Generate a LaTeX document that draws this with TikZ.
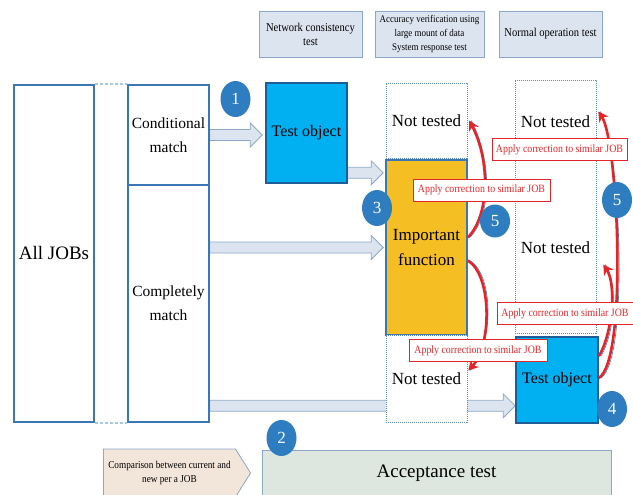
\documentclass[tikz,border=0pt]{standalone}
\usepackage{fontspec}
\setmainfont{Liberation Serif}
\newfontfamily\narrowserif[FakeStretch=0.88]{Liberation Serif}
\usetikzlibrary{arrows.meta,calc,shapes.geometric,shapes.symbols}

\definecolor{frameblue}{HTML}{3B77B5}
\definecolor{deepblue}{HTML}{1F5D96}
\definecolor{paleblue}{HTML}{DCE5EF}
\definecolor{greyblue}{HTML}{8CA8C8}
\definecolor{cyanbox}{HTML}{00B0F0}
\definecolor{goldbox}{HTML}{F5BE22}
\definecolor{numblue}{HTML}{2F7DC1}
\definecolor{fixred}{HTML}{E42528}
\definecolor{peach}{HTML}{F2E5DA}
\definecolor{sage}{HTML}{DEE7DF}
\definecolor{dashblue}{HTML}{5B8CC4}
\definecolor{lightdash}{HTML}{A9C8E8}

\pgfdeclarelayer{under}
\pgfsetlayers{under,main}

\tikzset{
  jobcol/.style={draw=frameblue,line width=1.6pt,rectangle,inner sep=0pt,
                 minimum width=80pt,align=center},
  header/.style={draw=greyblue,fill=paleblue,line width=0.9pt,rectangle,inner sep=0pt,
                 minimum height=46pt,align=center,
                 font=\narrowserif\fontsize{12}{14}\selectfont},
  result/.style={draw=dashblue,line width=0.5pt,dash pattern=on 1.2pt off 0.8pt,
                 fill=white,rectangle,inner sep=0pt,minimum width=81pt,
                 font=\fontsize{17}{20}\selectfont},
  tested/.style={draw=deepblue,fill=cyanbox,line width=1.6pt,rectangle,inner sep=0pt,
                 minimum width=81pt,font=\fontsize{16}{19}\selectfont},
  fixnote/.style={draw=fixred,fill=white,line width=0.8pt,text=fixred,inner sep=0pt,
                  minimum height=22pt,font=\narrowserif\fontsize{11.2}{11}\selectfont},
  badge/.style={ellipse,fill=numblue,text=white,inner sep=0pt,minimum width=30pt,
                minimum height=36pt,font=\fontsize{17}{17}\selectfont},
  flow/.style={draw=greyblue,fill=paleblue,line width=0.8pt},
  fix/.style={draw=fixred,line width=2.6pt,-{Stealth[length=10pt,width=11pt]}},
  fixedge/.style={draw=frameblue,line width=0.6pt,transform canvas={xshift=2pt}}
}

\newcommand{\flowarrow}[2]{%
  \draw[flow] ($(#1)+(0,-5.5)$) -- ($(#2)+(-12,-5.5)$) -- ($(#2)+(-12,-12)$)
    -- (#2) -- ($(#2)+(-12,12)$) -- ($(#2)+(-12,5.5)$) -- ($(#1)+(0,5.5)$) -- cycle;}

\begin{document}
\begin{tikzpicture}[x=1pt,y=-1pt]
\useasboundingbox (0,0) rectangle (633,495);

\node (net) at (310.5,34) [header,minimum width=103pt] {Network consistency\\test};
\node (acc) at (429.5,34) [header,minimum width=109pt,font=\narrowserif\fontsize{10.2}{14}\selectfont] {Accuracy verification using\\large mount of data\\System response test};
\node (nor) at (550.5,34) [header,minimum width=103pt] {Normal operation test};

\node (all) at (54,253.5) [jobcol,minimum height=337pt,font=\fontsize{19}{22}\selectfont] {All JOBs};
\node (cond) at (168.5,135) [jobcol,minimum width=81pt,minimum height=100pt,font=\fontsize{15.5}{24}\selectfont] {Conditional\\match};
\node (comp) at (168.5,303.5) [jobcol,minimum width=81pt,minimum height=237pt,font=\fontsize{15.5}{24}\selectfont] {Completely\\match};
\draw[lightdash,line width=1.5pt,dash pattern=on 3pt off 2pt] (all.north east) -- (cond.north west);
\draw[lightdash,line width=1.5pt,dash pattern=on 3pt off 2pt] (all.south east) -- (comp.south west);

\node (obj1) at (306.5,133) [tested,minimum height=100pt] {Test object};
\node (nt1) at (426.5,120.5) [result,minimum height=75pt] {Not tested};
\node (imp) at (426.5,247.5) [draw=frameblue,fill=goldbox,line width=1.6pt,inner sep=0pt,minimum width=81pt,minimum height=175pt,align=center,font=\fontsize{17}{25}\selectfont] {Important\\function};
\node (nt2) at (426.5,378.5) [result,minimum height=87pt] {Not tested};

\node (col3) at (555.5,206.5) [result,minimum height=253pt] {};
\node (nt3) at (555.5,122) [font=\fontsize{17}{20}\selectfont] {Not tested};
\node (nt4) at (555.5,248) [font=\fontsize{17}{20}\selectfont] {Not tested};
\node (obj2) at (557,380) [tested,minimum width=82pt,minimum height=86pt] {Test object};

\node (cmp) at (169.5,473) [signal,signal to=east,signal pointer angle=116,draw=greyblue,fill=peach,line width=0.8pt,minimum width=147pt,minimum height=48pt,inner sep=0pt,align=center,font=\narrowserif\fontsize{10.5}{14}\selectfont] {Comparison between current and\\new per a JOB};
\node (accept) at (436.5,473.5) [draw=greyblue,fill=sage,line width=0.8pt,minimum width=349pt,minimum height=47pt,font=\fontsize{19}{19}\selectfont] {Acceptance test};

\begin{pgfonlayer}{under}
\coordinate (a1e) at ($(obj1.west |- cond.east)+(-3,0)$);
\coordinate (a2s) at ($(obj1.south east)+(0,-11)$);
\coordinate (a2e) at ($(imp.west |- a2s)+(-2,0)$);
\coordinate (a3s) at (comp.east |- imp.west);
\coordinate (a3e) at ($(imp.west)+(-2,0)$);
\coordinate (a4s) at ($(comp.south east)+(0,-17)$);
\coordinate (a4e) at (obj2.west |- a4s);
\flowarrow{cond.east}{a1e}
\flowarrow{a2s}{a2e}
\flowarrow{a3s}{a3e}
\flowarrow{a4s}{a4e}
\end{pgfonlayer}

\coordinate (t3) at ($(col3.east)+(2,-95)$);
\coordinate (t4) at ($(col3.east)+(7,58)$);
\draw[fixedge] ($(imp.east)+(0,-10)$) .. controls (490,215) and (490,160) .. ($(nt1.east)+(2,0)$);
\draw[fix] ($(imp.east)+(0,-10)$) .. controls (490,215) and (490,160) .. ($(nt1.east)+(2,0)$);
\draw[fixedge] ($(imp.east)+(0,13)$) .. controls (492,275) and (492,345) .. ($(nt2.east)+(1,-8)$);
\draw[fix] ($(imp.east)+(0,13)$) .. controls (492,275) and (492,345) .. ($(nt2.east)+(1,-8)$);
\draw[fixedge] ($(obj2.north east)+(0,20)$) .. controls (612,335) and (617,285) .. (t4);
\draw[fix] ($(obj2.north east)+(0,20)$) .. controls (612,335) and (617,285) .. (t4);
\draw[fixedge] ($(obj2.east)+(0,-2)$) .. controls (628,360) and (618,140) .. (t3);
\draw[fix] ($(obj2.east)+(0,-2)$) .. controls (628,360) and (618,140) .. (t3);

\node (fixa) at (559.5,149.5) [fixnote,minimum width=135pt] {Apply correction to similar JOB};
\node (fixb) at (481.5,190) [fixnote,minimum width=137pt] {Apply correction to similar JOB};
\node (fixc) at (565,313.5) [fixnote,minimum width=136pt] {Apply correction to similar JOB};
\node (fixd) at (478,350.5) [fixnote,minimum width=138pt] {Apply correction to similar JOB};

\node (n1) at (235.5,99) [badge] {1};
\node (n2) at (281.5,438) [badge] {2};
\node (n3) at (377,208) [badge] {3};
\node (n4) at (612,409) [badge] {4};
\node (n5a) at (495,221) [badge,minimum height=33pt] {5};
\node (n5b) at (617,200) [badge] {5};
\end{tikzpicture}
\end{document}
